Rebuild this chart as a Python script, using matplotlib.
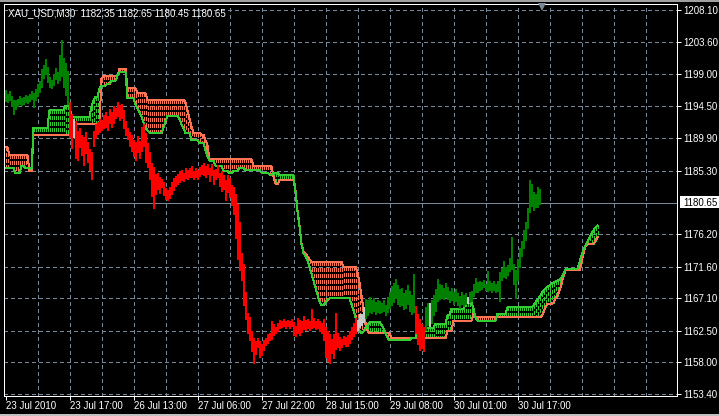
import numpy as np
import matplotlib
matplotlib.use("Agg")
import matplotlib.pyplot as plt
from matplotlib.collections import LineCollection
from matplotlib.patches import Rectangle

# ---------------- data ----------------
symbol = "XAU_USD,M30"
last_ohlc = [1182.35, 1182.65, 1180.45, 1180.65]
last_price = 1180.65

bar_high = [
    1196.8, 1196.2, 1196.6, 1195.9, 1195.4, 1195.3, 1195.5, 1195.9, 1195.6, 1195.8,
    1196.0, 1195.9, 1196.2, 1196.6, 1196.3, 1196.9, 1197.6, 1198.0, 1199.8, 1200.3,
    1201.2, 1200.0, 1198.6, 1198.2, 1199.0, 1199.9, 1199.3, 1201.8, 1203.9, 1201.3,
    1200.6, 1199.5, 1195.0, 1193.4, 1192.6, 1192.3, 1191.0, 1191.4, 1190.4, 1190.1,
    1190.8, 1189.4, 1188.3, 1187.9, 1191.0, 1191.9, 1192.2, 1192.7, 1192.5, 1193.2,
    1193.6, 1193.1, 1194.0, 1193.7, 1194.5, 1194.2, 1195.0, 1194.6, 1194.8, 1193.9,
    1192.4, 1191.4, 1190.8, 1190.4, 1189.7, 1189.4, 1190.2, 1189.5, 1191.5, 1192.0,
    1190.6, 1189.2, 1188.0, 1186.4, 1185.8, 1184.8, 1185.0, 1184.4, 1184.1, 1183.6,
    1182.8, 1182.5, 1183.0, 1183.6, 1184.2, 1184.5, 1184.8, 1185.2, 1185.4, 1185.0,
    1185.7, 1185.4, 1185.6, 1185.9, 1185.3, 1185.6, 1185.4, 1185.8, 1186.1, 1186.4,
    1186.0, 1186.3, 1185.7, 1186.2, 1185.4, 1185.5, 1186.1, 1185.0, 1185.3, 1184.6,
    1184.0, 1184.7, 1184.2, 1183.3, 1183.0, 1182.0, 1180.5, 1178.0, 1173.5, 1172.0,
    1168.0, 1165.0, 1164.5, 1162.5, 1161.5, 1161.0, 1161.5, 1161.0, 1160.6, 1161.2,
    1161.4, 1162.0, 1162.2, 1163.9, 1163.5, 1163.0, 1163.6, 1164.0, 1163.9, 1164.1,
    1163.8, 1164.0, 1163.8, 1164.1, 1163.7, 1163.2, 1164.3, 1164.0, 1163.8, 1164.6,
    1164.0, 1164.2, 1163.9, 1165.6, 1164.3, 1163.9, 1164.1, 1163.8, 1163.6, 1164.2,
    1163.0, 1162.5, 1162.0, 1161.3, 1162.0, 1165.0, 1162.2, 1161.6, 1161.3, 1161.8,
    1161.6, 1161.9, 1162.4, 1163.0, 1163.6, 1164.3, 1164.0, 1164.8, 1164.9, 1165.8,
    1167.0, 1166.8, 1167.3, 1166.9, 1167.1, 1166.6, 1166.9, 1166.7, 1166.4, 1166.8,
    1166.2, 1167.3, 1168.0, 1168.9, 1169.3, 1169.8, 1169.0, 1168.4, 1168.6, 1167.9,
    1168.3, 1169.0, 1168.1, 1167.6, 1170.5, 1166.0, 1164.8, 1164.2, 1163.5, 1163.0,
    1165.8, 1166.4, 1166.4, 1166.8, 1167.6, 1168.4, 1169.8, 1169.2, 1169.0, 1168.5,
    1169.3, 1168.7, 1168.2, 1168.6, 1168.0, 1168.4, 1167.8, 1167.5, 1168.0, 1167.6,
    1167.9, 1167.3, 1168.0, 1168.2, 1169.2, 1170.0, 1169.4, 1169.6, 1169.4, 1169.7,
    1169.2, 1171.0, 1169.6, 1169.3, 1169.6, 1169.2, 1169.5, 1170.8, 1171.4, 1172.4,
    1171.6, 1171.9, 1172.8, 1175.9, 1172.0, 1171.2, 1172.7, 1174.3, 1175.2, 1176.8,
    1178.0, 1180.0, 1183.9, 1183.4, 1182.3, 1181.9, 1182.9, 1182.65,
]

bar_low = [
    1195.0, 1194.9, 1195.2, 1194.3, 1193.2, 1193.9, 1194.3, 1194.6, 1194.5, 1194.7,
    1194.9, 1194.8, 1195.0, 1195.3, 1194.2, 1195.2, 1195.8, 1196.4, 1197.0, 1198.4,
    1198.9, 1197.8, 1197.1, 1196.9, 1197.4, 1198.2, 1197.6, 1198.1, 1198.6, 1197.0,
    1195.9, 1194.7, 1190.0, 1188.4, 1190.0, 1187.0, 1186.7, 1188.5, 1187.4, 1186.0,
    1187.6, 1186.4, 1185.2, 1183.9, 1188.6, 1189.8, 1190.4, 1190.6, 1190.9, 1191.2,
    1191.3, 1191.0, 1191.9, 1191.4, 1192.0, 1192.6, 1192.9, 1192.3, 1192.7, 1191.2,
    1190.2, 1189.6, 1188.7, 1188.0, 1187.2, 1186.7, 1187.8, 1187.0, 1188.0, 1188.6,
    1186.4, 1185.6, 1184.0, 1181.5, 1179.8, 1181.8, 1182.6, 1182.0, 1182.8, 1181.7,
    1181.1, 1180.9, 1181.3, 1181.8, 1182.4, 1183.0, 1183.2, 1183.5, 1183.8, 1183.6,
    1184.1, 1184.0, 1184.2, 1184.3, 1184.0, 1184.2, 1183.9, 1184.4, 1184.6, 1184.5,
    1184.3, 1184.7, 1183.6, 1184.5, 1183.2, 1183.9, 1184.2, 1183.0, 1182.2, 1182.6,
    1181.0, 1182.1, 1181.4, 1180.2, 1179.0, 1175.5, 1172.5, 1171.0, 1169.5, 1166.0,
    1164.0, 1162.0, 1161.0, 1159.5, 1157.8, 1159.0, 1160.0, 1158.6, 1158.9, 1159.6,
    1160.3, 1160.6, 1161.0, 1161.2, 1161.8, 1162.0, 1162.3, 1162.8, 1162.9, 1163.0,
    1162.8, 1163.0, 1162.7, 1163.0, 1161.8, 1161.6, 1162.0, 1161.8, 1162.2, 1162.6,
    1162.4, 1162.7, 1162.5, 1162.8, 1162.9, 1162.6, 1162.8, 1162.3, 1162.0, 1161.0,
    1158.6, 1158.0, 1157.8, 1159.2, 1158.5, 1159.8, 1160.0, 1159.6, 1160.0, 1160.4,
    1160.2, 1160.2, 1160.6, 1161.2, 1161.6, 1162.0, 1162.4, 1162.9, 1163.1, 1163.6,
    1164.2, 1164.6, 1165.0, 1164.9, 1165.2, 1164.7, 1165.0, 1164.8, 1165.0, 1165.2,
    1164.6, 1165.0, 1165.6, 1166.0, 1166.4, 1167.0, 1166.2, 1165.8, 1166.0, 1165.4,
    1165.6, 1166.2, 1165.1, 1164.7, 1165.0, 1162.0, 1160.5, 1159.6, 1159.9, 1159.4,
    1162.5, 1163.2, 1163.0, 1163.5, 1164.6, 1165.2, 1166.6, 1166.9, 1167.0, 1166.9,
    1167.2, 1166.9, 1166.5, 1166.7, 1166.2, 1166.6, 1166.0, 1165.6, 1166.1, 1165.8,
    1166.2, 1166.3, 1166.4, 1166.6, 1167.3, 1167.8, 1167.9, 1168.2, 1168.3, 1168.5,
    1168.1, 1168.0, 1168.1, 1167.9, 1168.2, 1167.8, 1168.0, 1166.6, 1169.6, 1170.0,
    1169.9, 1170.3, 1170.8, 1171.2, 1169.0, 1167.0, 1169.6, 1171.4, 1173.0, 1174.1,
    1175.3, 1177.0, 1179.2, 1180.1, 1179.6, 1180.0, 1179.9, 1180.45,
]

# bar state relative to the cloud (run lengths)
trend_runs = [("up", 32), ("down", 2), ("flat", 1), ("down", 141), ("flat", 4),
              ("up", 25), ("down", 5), ("up", 2), ("flat", 1), ("up", 18),
              ("flat", 1), ("up", 36)]

# Senkou span A (green) as (value, number of bars)
span_a_runs = [
    (1185.7, 5), (1184.9, 3), (1186.0, 2), (1185.6, 4), (1191.4, 8), (1193.9, 8),
    (1194.5, 3), (1193.0, 10), (1194.4, 1), (1195.3, 1), (1195.8, 2), (1197.0, 1),
    (1197.4, 3), (1197.7, 2), (1198.1, 3), (1198.8, 1), (1199.3, 4), (1195.6, 4),
    (1194.7, 1), (1194.1, 1), (1193.6, 1), (1193.0, 1), (1192.1, 1), (1191.4, 1),
    (1191.0, 1), (1190.7, 7), (1191.4, 1), (1192.4, 1), (1193.1, 6), (1192.6, 1),
    (1191.9, 1), (1191.3, 1), (1190.6, 3), (1189.6, 4), (1189.2, 3), (1188.2, 1),
    (1187.3, 1), (1186.7, 3), (1186.0, 4), (1185.3, 3), (1184.9, 2), (1185.3, 3),
    (1185.7, 3), (1185.4, 8), (1185.0, 4), (1184.7, 2), (1185.0, 3), (1184.6, 8),
    (1182.3, 1), (1179.5, 1), (1177.3, 1), (1174.8, 1), (1173.5, 1), (1173.1, 1),
    (1172.5, 1), (1171.6, 1), (1170.6, 1), (1169.6, 1), (1168.6, 1), (1167.6, 1),
    (1166.6, 1), (1166.1, 2), (1166.5, 1), (1166.9, 1), (1167.1, 11), (1166.3, 1),
    (1165.4, 1), (1164.4, 1), (1163.4, 1), (1162.5, 1), (1162.1, 1), (1162.4, 1),
    (1162.8, 1), (1163.2, 1), (1163.7, 6), (1163.4, 1), (1162.8, 1), (1162.1, 1),
    (1161.5, 1), (1161.1, 11), (1161.5, 3), (1162.5, 1), (1162.9, 8), (1163.5, 6),
    (1164.7, 2), (1165.6, 7), (1166.4, 3), (1166.5, 1), (1165.6, 1), (1164.4, 1),
    (1163.9, 10), (1164.9, 5), (1165.8, 13), (1166.1, 1), (1166.5, 1), (1166.9, 1),
    (1167.3, 1), (1167.8, 1), (1168.2, 1), (1168.5, 1), (1168.8, 1), (1168.9, 1),
    (1169.2, 1), (1169.3, 1), (1169.5, 1), (1169.6, 1), (1169.8, 1), (1170.1, 1),
    (1170.6, 1), (1171.2, 1), (1171.3, 6), (1172.2, 1), (1173.2, 1), (1174.1, 1),
    (1174.6, 1), (1175.2, 1), (1175.8, 1), (1176.3, 1), (1176.8, 1), (1177.2, 1),
    (1177.5, 1),
]

# Senkou span B (salmon) as (value, number of bars)
span_b_runs = [
    (1188.6, 2), (1187.5, 10), (1185.2, 2), (1190.3, 19), (1192.0, 15), (1198.4, 1),
    (1198.8, 8), (1199.8, 4), (1197.0, 5), (1196.3, 5), (1195.4, 19), (1195.0, 1),
    (1193.9, 1), (1192.7, 1), (1191.6, 1), (1190.7, 4), (1190.4, 2), (1189.6, 1),
    (1188.9, 1), (1186.9, 22), (1185.9, 10), (1184.5, 1), (1183.4, 2), (1183.9, 8),
    (1182.5, 1), (1179.6, 1), (1177.5, 1), (1174.9, 1), (1173.8, 1), (1173.5, 1),
    (1173.1, 1), (1172.6, 1), (1172.3, 16), (1171.6, 7), (1170.8, 1), (1169.3, 1),
    (1167.5, 1), (1165.6, 1), (1163.6, 1), (1162.5, 1), (1162.1, 11), (1161.4, 28),
    (1162.5, 3), (1163.9, 10), (1164.9, 1), (1164.4, 33), (1164.5, 1), (1165.1, 1),
    (1165.9, 1), (1166.3, 3), (1166.5, 1), (1167.1, 1), (1167.5, 1), (1168.2, 1),
    (1169.2, 1), (1170.3, 1), (1171.1, 8), (1172.2, 1), (1173.5, 1), (1174.5, 1),
    (1174.8, 3), (1174.9, 1), (1175.3, 1), (1175.8, 1),
]

time_labels = ["23 Jul 2010", "23 Jul 17:00", "26 Jul 13:00", "27 Jul 06:00",
               "27 Jul 22:00", "28 Jul 15:00", "29 Jul 08:00", "30 Jul 01:00",
               "30 Jul 17:00"]
bars_per_label = 32
price_ticks = [1208.10, 1203.60, 1199.00, 1194.50, 1189.90, 1185.30,
               1176.20, 1171.60, 1167.10, 1162.50, 1158.00, 1153.40]

# ---------------- build series ----------------
hi = np.array(bar_high)
lo = np.array(bar_low)
n = len(hi)
xb = np.arange(n)
state = np.concatenate([[s] * c for s, c in trend_runs])
span_a = np.repeat([v for v, c in span_a_runs], [c for v, c in span_a_runs])
span_b = np.repeat([v for v, c in span_b_runs], [c for v, c in span_b_runs])
xc = np.arange(len(span_a))

# ---------------- styling ----------------
W, H, DPI = 719, 416, 100
PX = 72.0 / DPI  # one pixel in points
BG = "black"
GRID = "#778899"
C_A = "#32CD32"
C_B = "#FF7452"
C_UP = "#008000"
C_DN = "#FF0000"
C_FLAT = "#C8C8C8"
FONT = "Liberation Sans"
FS = 7.0

fig = plt.figure(figsize=(W / DPI, H / DPI), dpi=DPI, facecolor=BG)
left_px, right_px, top_px, bot_px = 4, 677, 4, 396
ax = fig.add_axes([left_px / W, 1 - bot_px / H, (right_px - left_px) / W,
                   (bot_px - top_px) / H], facecolor=BG)

# axis scaling: bar i sits at pixel column 5 + 2*i ; price 1208.10 at y=10, 1153.40 at y=394
ppp = (1208.10 - 1153.40) / 384.0
ax.set_xlim((left_px - 5.5) / 2.0, (right_px - 5.5) / 2.0)
ax.set_ylim(1153.40 - (bot_px - 394.5) * ppp, 1208.10 + (10.5 - top_px) * ppp)

# grid
for i in range(16, 336, 16):
    ax.axvline(i, color=GRID, lw=PX, dashes=(4, 3), zorder=1, antialiased=False)
for p in price_ticks:
    ax.axhline(p, color=GRID, lw=PX, dashes=(4, 3), zorder=1, antialiased=False)
ax.axhline(last_price, color=GRID, lw=PX, zorder=1.5, antialiased=False)

# cloud hatch (dotted verticals between the spans)
segs, cols = [], []
for i in range(len(xc)):
    a, b = span_a[i], span_b[i]
    top, bot = max(a, b), min(a, b)
    segs.append([(xc[i], top), (xc[i], bot)])
    cols.append(C_B if b > a else C_A)
hatch = LineCollection(segs, colors=cols, linewidths=PX * 0.6,
                       linestyles=[(0, (5, 3.5))], antialiased=False, zorder=2)
ax.add_collection(hatch)

# cloud edge lines
ax.plot(xc, span_b, color=C_B, lw=PX, zorder=3, antialiased=False)
ax.plot(xc, span_a, color=C_A, lw=PX, zorder=3, antialiased=False)

# price bars
cmap = {"up": C_UP, "down": C_DN, "flat": C_FLAT}
bsegs = [[(xb[i], lo[i]), (xb[i], hi[i])] for i in range(n)]
bcols = [cmap[s] for s in state]
bars = LineCollection(bsegs, colors=bcols, linewidths=PX * 2, antialiased=False,
                      zorder=4)
ax.add_collection(bars)

# shift marker
ax.plot([n], [1208.10 + 3 * ppp], marker="v", markersize=5.5, color=GRID,
        markeredgewidth=0, clip_on=False, zorder=6)

# axes / ticks
for s in ax.spines.values():
    s.set_color("white")
    s.set_linewidth(PX)
ax.yaxis.tick_right()
ax.set_yticks(price_ticks)
ax.set_yticklabels([f"{p:.2f}" for p in price_ticks], fontfamily=FONT, fontsize=FS,
                   color="white")
xt = [k * bars_per_label for k in range(len(time_labels))]
ax.set_xticks(xt)
ax.set_xticklabels(time_labels, fontfamily=FONT, fontsize=FS, color="white", ha="left")
ax.tick_params(axis="y", colors="white", length=4 * PX, width=PX, pad=2.0)
ax.tick_params(axis="x", colors="white", length=4 * PX, width=PX, pad=0.6)

# title
fig.text(8 / W, 1 - 13.5 / H,
         f"{symbol}  " + " ".join(f"{v:.2f}" for v in last_ohlc),
         color="white", fontfamily=FONT, fontsize=FS, va="center", ha="left")

# current price label box
fig.patches.append(Rectangle((680 / W, 1 - 208 / H), 39 / W, 12 / H,
                             transform=fig.transFigure, facecolor="white",
                             edgecolor="none", zorder=5))
fig.text(683 / W, 1 - 202.5 / H, f"{last_price:.2f}", color="black",
         fontfamily=FONT, fontsize=FS, va="center", ha="left", zorder=6)

# window edges
fig.patches.append(Rectangle((0, 1 - 1.5 / H), 1, 1.5 / H, transform=fig.transFigure,
                             facecolor="#A0A0A0", edgecolor="none"))
fig.patches.append(Rectangle((0, 0), 1, 2.5 / H, transform=fig.transFigure,
                             facecolor="#C0C0C0", edgecolor="none"))

fig.savefig("out.png", dpi=DPI, facecolor=BG)
